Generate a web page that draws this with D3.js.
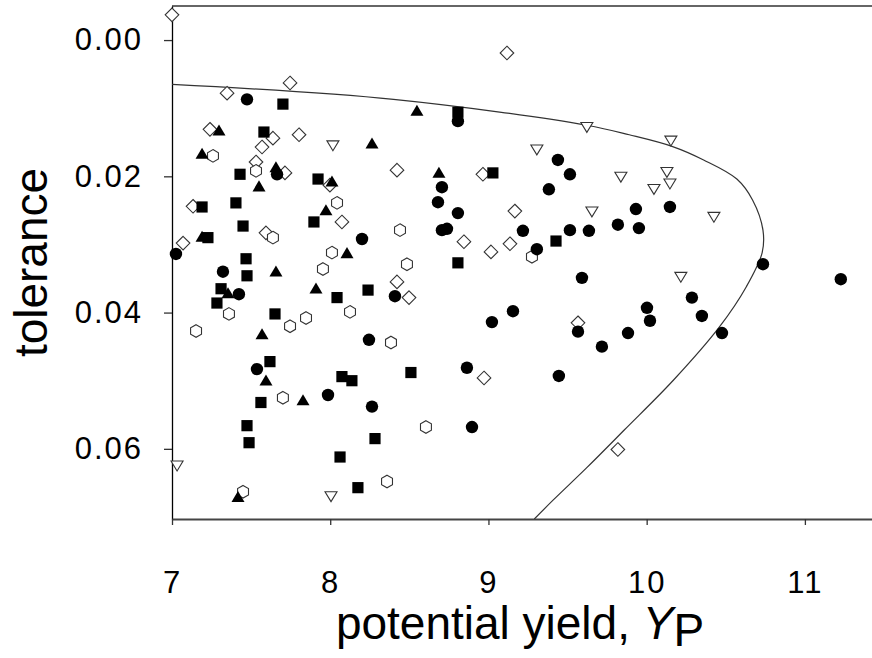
<!DOCTYPE html>
<html>
<head>
<meta charset="utf-8">
<script src="https://cdn.jsdelivr.net/npm/d3@7"></script>
<style>
  body { margin: 0; background: #fff; }
  svg { display: block; font-family: Arial, "Liberation Sans", sans-serif; }
</style>
</head>
<body>
<svg id="chart"></svg>
<script>
// data: [potential yield, tolerance]
let filledCircles = [
  [7.474, 0.0087], [8.807, 0.0119], [9.439, 0.0176], [9.515, 0.0197], [8.706, 0.0216],
  [9.382, 0.0219], [8.681, 0.0238], [8.807, 0.0254], [9.932, 0.0248], [10.147, 0.0245],
  [9.818, 0.0271], [9.951, 0.0276], [9.218, 0.0280], [9.515, 0.0279], [9.635, 0.0280],
  [8.706, 0.0279], [8.738, 0.0277], [9.306, 0.0307], [8.201, 0.0292], [7.025, 0.0314],
  [9.591, 0.0349], [10.735, 0.0329], [11.227, 0.0351], [7.322, 0.0340], [7.423, 0.0373],
  [8.409, 0.0376], [10.286, 0.0378], [10.002, 0.0393], [10.021, 0.0412], [10.349, 0.0405],
  [9.155, 0.0398], [9.022, 0.0414], [9.566, 0.0428], [9.882, 0.0430], [10.476, 0.0430],
  [9.717, 0.0450], [8.245, 0.0440], [7.537, 0.0483], [8.864, 0.0481], [9.445, 0.0493],
  [7.986, 0.0521], [8.264, 0.0538], [8.896, 0.0568], [7.664, 0.0197]
];

let filledSquares = [
  [7.701, 0.0094], [7.581, 0.0135], [8.807, 0.0106], [7.430, 0.0197], [7.923, 0.0204],
  [9.028, 0.0195], [7.190, 0.0245], [7.404, 0.0239], [7.897, 0.0267], [7.449, 0.0273],
  [7.227, 0.0290], [9.427, 0.0295], [7.468, 0.0321], [7.474, 0.0346], [8.807, 0.0327],
  [7.310, 0.0365], [7.284, 0.0386], [8.043, 0.0378], [8.239, 0.0367], [7.651, 0.0402],
  [7.619, 0.0472], [8.074, 0.0494], [8.137, 0.0500], [8.510, 0.0488], [7.562, 0.0532],
  [7.474, 0.0566], [7.487, 0.0591], [8.283, 0.0585], [8.062, 0.0612], [8.175, 0.0657]
];

let filledTriangles = [
  [7.297, 0.0132], [7.190, 0.0166], [8.264, 0.0151], [8.548, 0.0103], [8.011, 0.0207],
  [7.550, 0.0214], [7.973, 0.0249], [7.190, 0.0288], [8.106, 0.0312], [7.657, 0.0339],
  [7.354, 0.0371], [7.910, 0.0364], [7.569, 0.0431], [7.594, 0.0499], [7.828, 0.0528],
  [7.417, 0.0670], [8.687, 0.0194], [7.657, 0.0186]
];

let openDiamonds = [
  [7.000, -0.0037], [7.348, 0.0078], [7.746, 0.0063], [9.117, 0.0019], [7.240, 0.0131],
  [7.638, 0.0144], [7.569, 0.0157], [7.803, 0.0139], [7.531, 0.0179], [7.714, 0.0195],
  [7.998, 0.0213], [8.422, 0.0191], [8.965, 0.0197], [7.133, 0.0244], [8.074, 0.0267],
  [7.594, 0.0283], [7.070, 0.0298], [9.167, 0.0251], [8.845, 0.0296], [9.136, 0.0299],
  [9.016, 0.0311], [8.422, 0.0355], [8.498, 0.0378], [8.972, 0.0496], [9.566, 0.0415],
  [9.818, 0.0601]
];

let openHexagons = [
  [7.259, 0.0170], [7.531, 0.0192], [8.043, 0.0239], [7.638, 0.0290], [8.441, 0.0279],
  [8.011, 0.0312], [7.954, 0.0336], [8.485, 0.0329], [9.275, 0.0318], [7.360, 0.0402],
  [7.847, 0.0408], [7.746, 0.0420], [8.125, 0.0399], [7.152, 0.0427], [8.384, 0.0444],
  [7.701, 0.0525], [8.605, 0.0568], [8.359, 0.0648], [7.449, 0.0663]
];

let openDownTriangles = [
  [8.017, 0.0155], [9.622, 0.0128], [9.306, 0.0161], [9.837, 0.0201], [10.153, 0.0148],
  [10.128, 0.0194], [10.046, 0.0219], [10.147, 0.0211], [9.654, 0.0252], [10.425, 0.0260],
  [10.216, 0.0348], [7.032, 0.0625], [8.005, 0.0670]
];

// boundary curve
let boundaryYield = [7.00, 8.40, 9.62, 9.89, 10.16, 10.36, 10.57, 10.67, 10.735, 10.73, 10.63, 10.46, 10.17, 9.86, 9.62, 9.41, 9.29];
let boundaryTol = [0.0065, 0.0087, 0.0125, 0.0139, 0.0156, 0.0176, 0.0204, 0.0235, 0.0279, 0.0312, 0.0362, 0.0421, 0.0499, 0.0572, 0.0628, 0.0675, 0.0703];

let xTicks = [7, 8, 9, 10, 11];
let yTicks = [0.00, 0.02, 0.04, 0.06];

// svg / plot area
let width = 872, height = 658;
let plot = { left: 172, top: 6, right: 884, bottom: 519 };

let svg = d3.select('#chart')
  .attr('width', width)
  .attr('height', height);

let x = d3.scaleLinear().domain([7, 11.5]).range([plot.left, plot.right]);
let y = d3.scaleLinear().domain([-0.005, 0.0703]).range([plot.top, plot.bottom]);

// clip for the curve
svg.append('clipPath').attr('id', 'plot-clip')
  .append('rect')
  .attr('x', plot.left).attr('y', plot.top)
  .attr('width', plot.right - plot.left).attr('height', plot.bottom - plot.top);

// top frame line
svg.append('line')
  .attr('x1', plot.left).attr('x2', plot.right)
  .attr('y1', plot.top).attr('y2', plot.top)
  .attr('stroke', '#666').attr('stroke-width', 2);

// axes
let yAxis = d3.axisLeft(y)
  .tickValues(yTicks)
  .tickFormat(d3.format('.2f'))
  .tickSize(8)
  .tickSizeOuter(0)
  .tickPadding(21);

let yGroup = svg.append('g').attr('transform', translate(plot.left, 0)).call(yAxis);
yGroup.select('.domain').attr('stroke', '#000').attr('stroke-width', 1.3);

let xAxis = d3.axisBottom(x)
  .tickValues(xTicks)
  .tickFormat(d3.format('d'))
  .tickSize(6)
  .tickSizeOuter(0)
  .tickPadding(46);

let xGroup = svg.append('g').attr('transform', translate(0, plot.bottom)).call(xAxis);
xGroup.select('.domain').attr('stroke', '#444').attr('stroke-width', 2);

svg.selectAll('.tick line').attr('stroke', '#333').attr('stroke-width', 1.3);
svg.selectAll('.tick text')
  .attr('font-size', 31)
  .attr('font-family', 'Arial, "Liberation Sans", sans-serif')
  .attr('letter-spacing', 2)
  .attr('fill', '#000');

// boundary curve
let boundary = d3.zip(boundaryYield, boundaryTol);
svg.append('path')
  .datum(boundary)
  .attr('clip-path', 'url(#plot-clip)')
  .attr('fill', 'none')
  .attr('stroke', '#333')
  .attr('stroke-width', 1.2)
  .attr('d', d3.line()
    .x(d => x(d[0]))
    .y(d => y(d[1]))
    .curve(d3.curveCatmullRom.alpha(0.5)));

// marker shapes (size = radius)
function polygonType(pts) {
  return {
    draw(ctx, r) {
      pts.forEach((p, i) => i ? ctx.lineTo(p[0] * r, p[1] * r) : ctx.moveTo(p[0] * r, p[1] * r));
      ctx.closePath();
    }
  };
}
let circleType = { draw(ctx, r) { ctx.moveTo(r, 0); ctx.arc(0, 0, r, 0, 2 * Math.PI); } };
let squareType = polygonType([[-1, -1], [1, -1], [1, 1], [-1, 1]]);
let triangleType = polygonType([[0, -0.85], [1, 0.85], [-1, 0.85]]);
let diamondType = polygonType([[0, -1], [1, 0], [0, 1], [-1, 0]]);
let hexagonType = polygonType([[0, -1], [0.866, -0.5], [0.866, 0.5], [0, 1], [-0.866, 0.5], [-0.866, -0.5]]);
let downTriangleType = polygonType([[-1, -0.8], [1, -0.8], [0, 0.85]]);

function drawSeries(data, type, r, filled) {
  svg.append('g')
    .selectAll('path')
    .data(data)
    .join('path')
    .attr('transform', d => translate(x(d[0]), y(d[1])))
    .attr('d', d3.symbol().type(type).size(r))
    .attr('fill', filled ? '#000' : '#fff')
    .attr('stroke', filled ? 'none' : '#333')
    .attr('stroke-width', 1.1);
}

drawSeries(openDiamonds, diamondType, 6.8, false);
drawSeries(openHexagons, hexagonType, 6.3, false);
drawSeries(openDownTriangles, downTriangleType, 6, false);
drawSeries(filledSquares, squareType, 5.6, true);
drawSeries(filledTriangles, triangleType, 6.5, true);
drawSeries(filledCircles, circleType, 6.2, true);

// axis titles
svg.append('text')
  .attr('transform', 'translate(47,' + ((plot.top + plot.bottom) / 2) + ') rotate(-90)')
  .attr('text-anchor', 'middle')
  .attr('font-size', 46)
  .text('tolerance');

let xTitle = svg.append('text')
  .attr('x', 520)
  .attr('y', 639)
  .attr('text-anchor', 'middle')
  .attr('font-size', 46);
xTitle.append('tspan').text('potential yield, ');
xTitle.append('tspan').attr('font-style', 'italic').text('Y');
xTitle.append('tspan').attr('dy', 7).text('P');

// helper method to make translating easier
function translate(a, b) {
  return 'translate(' + a + ',' + b + ')';
}
</script>
</body>
</html>
